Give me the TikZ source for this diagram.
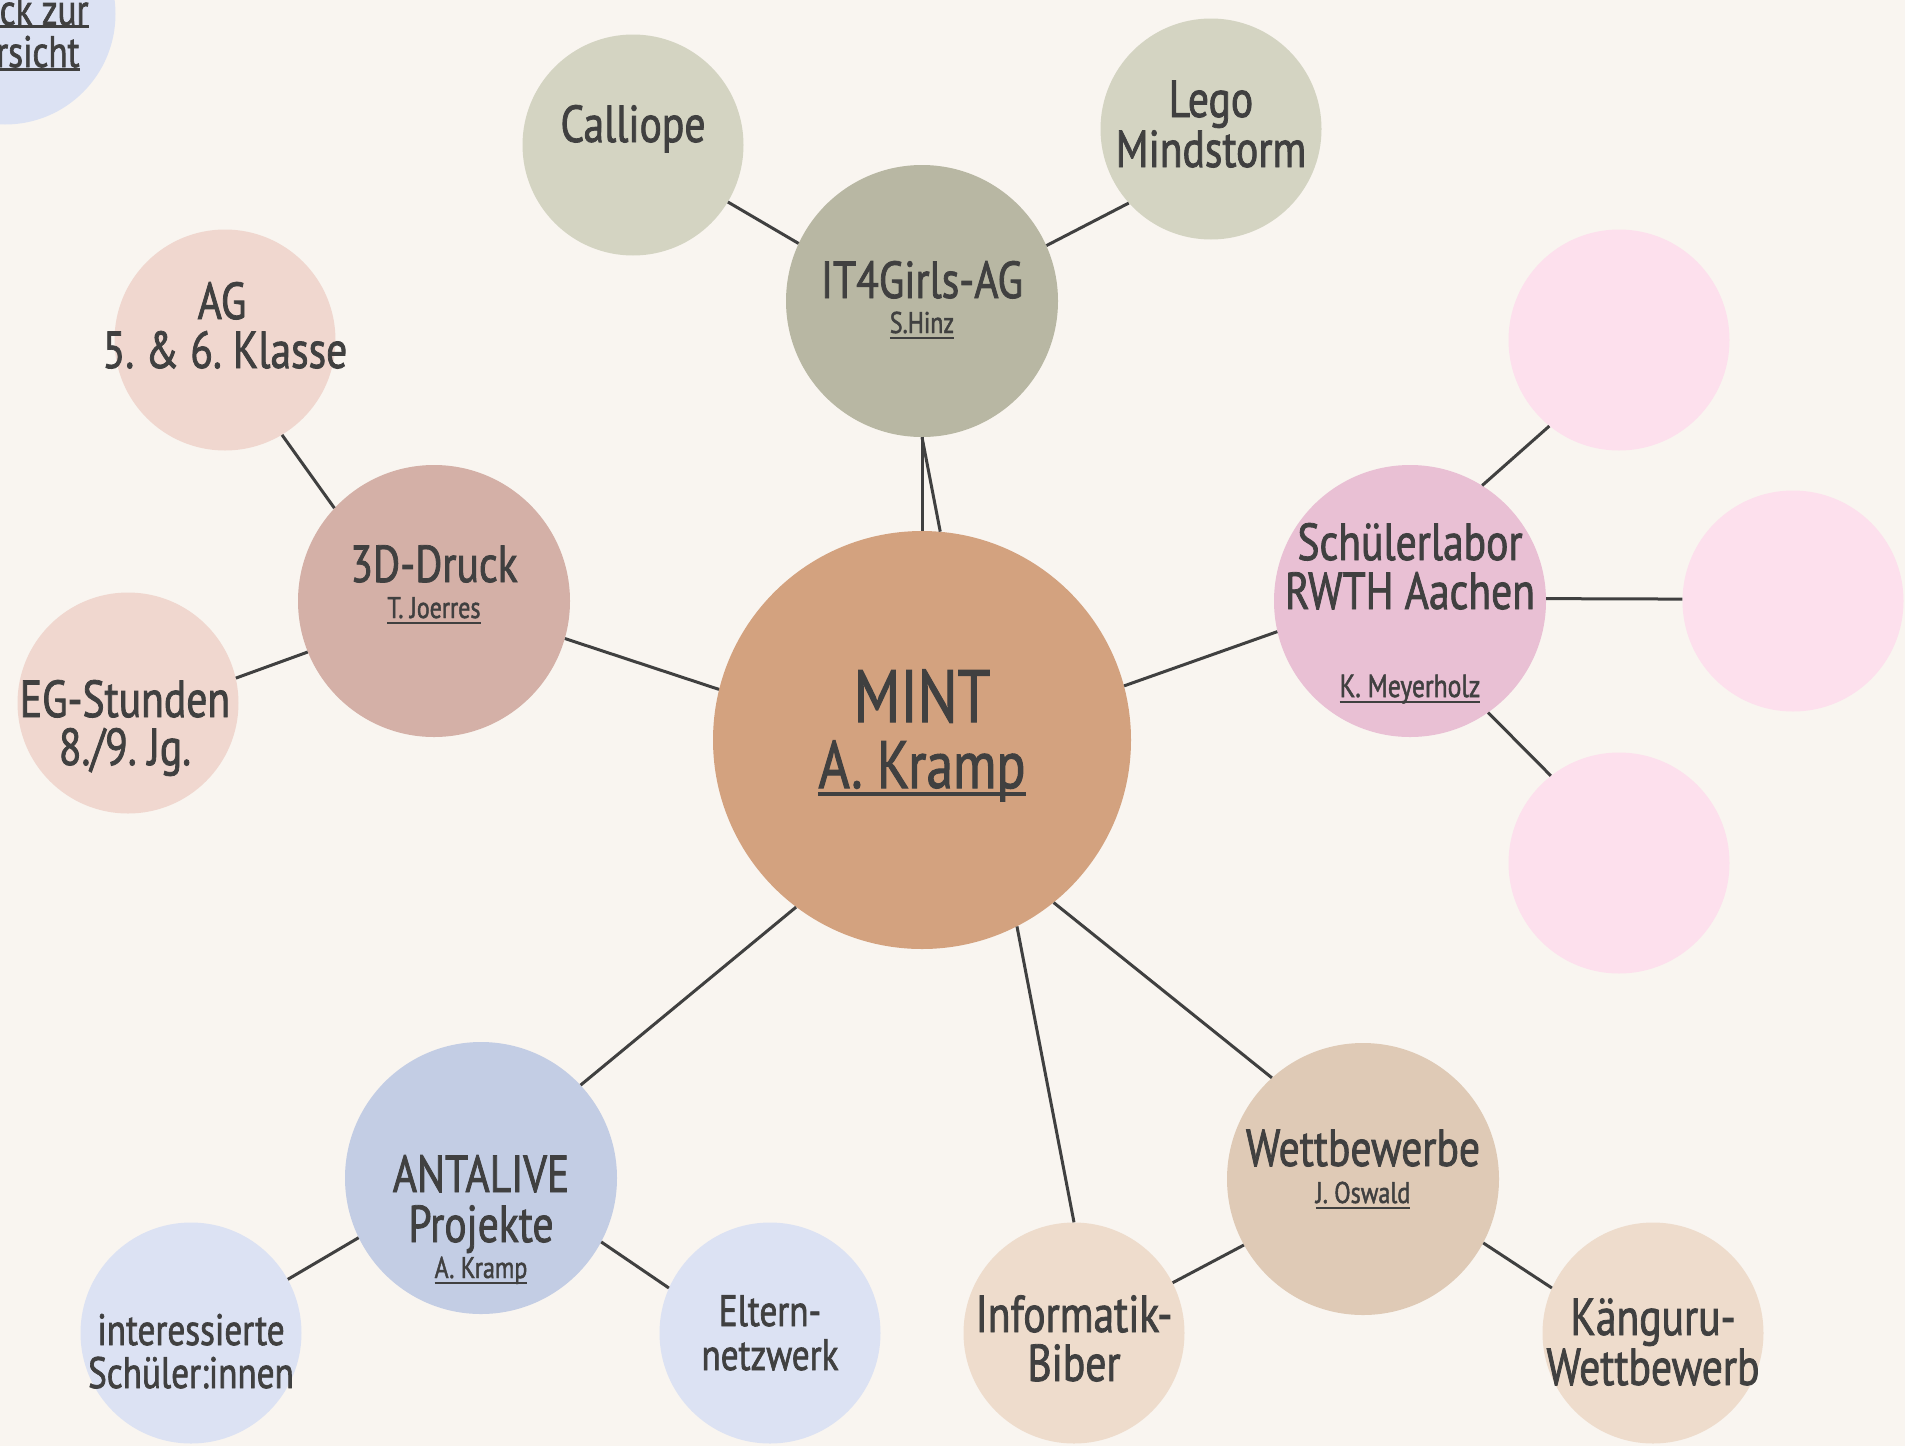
\documentclass[tikz,border=0pt]{standalone}
\usepackage{fontspec}
\setmainfont{PT Sans}[FakeStretch=0.8,FakeBold=1.5]
\frenchspacing
\definecolor{bgc}{HTML}{F9F5F0}
\definecolor{txtc}{HTML}{404040}
\definecolor{linec}{HTML}{404040}
\definecolor{cmint}{HTML}{D3A27F}
\definecolor{cit}{HTML}{B8B7A3}
\definecolor{citl}{HTML}{D4D4C2}
\definecolor{cdd}{HTML}{D4B0A7}
\definecolor{cddl}{HTML}{F0D7CF}
\definecolor{csl}{HTML}{E9C0D4}
\definecolor{csll}{HTML}{FDE0ED}
\definecolor{cant}{HTML}{C3CDE4}
\definecolor{cantl}{HTML}{DCE2F3}
\definecolor{cwet}{HTML}{DFCAB6}
\definecolor{cwetl}{HTML}{EEDCCC}
\newsavebox\ulsb
\newcommand\ulbox[3]{\sbox\ulsb{#3}\hbox{\rlap{\raise-#1\hbox{\vrule width\wd\ulsb height#2 depth0pt}}\usebox\ulsb}}
\tikzset{
  bub/.style={circle, draw=none, inner sep=0pt, minimum size=#1},
  bigbub/.style={bub=418pt},
  midbub/.style={bub=272pt},
  smlbub/.style={bub=221pt},
  con/.style={draw=linec, line width=3pt},
  lbl/.style={anchor=base, inner sep=0pt, text=txtc, font=\fontsize{52}{60}\selectfont},
  lblm/.style={lbl, font=\fontsize{44}{52}\selectfont},
  lbls/.style={lbl, font=\fontsize{30}{36}\selectfont},
}
\begin{document}
\begin{tikzpicture}[x=1pt,y=-1pt]
\clip (0,0) rectangle (1905,1446);
\fill[bgc] (0,0) rectangle (1905,1446);
\useasboundingbox (0,0) rectangle (1905,1446);

% circles
\node[bigbub, fill=cmint] (mint) at (922,740) {};
\node[midbub, fill=cit] (it4) at (922,301) {};
\node[smlbub, fill=citl] (cal) at (633,145) {};
\node[smlbub, fill=citl] (lego) at (1211,129) {};
\node[midbub, fill=cdd] (dd) at (434,601) {};
\node[smlbub, fill=cddl] (ag) at (225,340) {};
\node[smlbub, fill=cddl] (eg) at (128,703) {};
\node[midbub, fill=csl] (sl) at (1410,601) {};
\node[smlbub, fill=csll] (pt) at (1619,340) {};
\node[smlbub, fill=csll] (pr) at (1793,601) {};
\node[smlbub, fill=csll] (pb) at (1619,863) {};
\node[midbub, fill=cant] (ant) at (481,1178) {};
\node[smlbub, fill=cantl] (int) at (191,1333) {};
\node[smlbub, fill=cantl] (elt) at (770,1333) {};
\node[midbub, fill=cwet] (wet) at (1363,1179) {};
\node[smlbub, fill=cwetl] (bib) at (1074,1333) {};
\node[smlbub, fill=cwetl] (kan) at (1653,1333) {};
\node[smlbub, fill=cantl] (back) at (5,14) {};

% connectors
\draw[con] (mint.90) -- (it4.270);
\draw[con] (mint.85) -- (it4.270);
\draw[con] (it4.155) -- (cal.-31);
\draw[con] (it4.24) -- (lego.222);
\draw[con] (mint.166) -- (dd.-16);
\draw[con] (dd.137) -- (ag.-59);
\draw[con] (dd.202) -- (eg.13);
\draw[con] (mint.15) -- (sl.193);
\draw[con] (sl.58) -- (pt.231);
\draw[con] (sl.1) -- (pr.179);
\draw[con] (sl.-55) -- (pb.128);
\draw[con] (mint.233) -- (ant.43);
\draw[con] (ant.206) -- (int.29);
\draw[con] (ant.-28) -- (elt.156);
\draw[con] (mint.-63) -- (bib.90);
\draw[con] (mint.-51) -- (wet.132);
\draw[con] (wet.209) -- (bib.27);
\draw[con] (wet.-28) -- (kan.156);

% texts
\node[lbl, font=\fontsize{74}{90}\selectfont] (mint-t1) at (922,722) {MINT};
\node[lbl, font=\fontsize{67}{80}\selectfont] (mint-t2) at (922,788) {\ulbox{7.5pt}{3.5pt}{A. Kramp}};

\node[lbl] (it4-t1) at (922,298) {IT4Girls-AG};
\node[lbls] (it4-t2) at (922,333) {\ulbox{5.5pt}{2pt}{S.Hinz}};
\node[lbl] (cal-t1) at (633,142) {Calliope};
\node[lbl] (lego-t1) at (1211,117) {Lego};
\node[lbl] (lego-t2) at (1211,167) {Mindstorm};

\node[lbl] (dd-t1) at (434,582) {3D-Druck};
\node[lbls] (dd-t2) at (434,618) {\ulbox{5.5pt}{2pt}{T. Joerres}};
\node[lbl] (ag-t1) at (222,319) {AG};
\node[lbl] (ag-t2) at (225,368) {5. \& 6. Klasse};
\node[lbl] (eg-t1) at (125,717) {EG-Stunden};
\node[lbl] (eg-t2) at (125,765) {8./9. Jg.};

\node[lbl] (sl-t1) at (1410,560) {Schülerlabor};
\node[lbl] (sl-t2) at (1410,609) {RWTH Aachen};
\node[lbls, font=\fontsize{32}{38}\selectfont] (sl-t3) at (1410,697) {\ulbox{5.5pt}{2pt}{K. Meyerholz}};

\node[lbl] (ant-t1) at (481,1192) {ANTALIVE};
\node[lbl] (ant-t2) at (481,1242) {Projekte};
\node[lbls] (ant-t3) at (481,1278) {\ulbox{5.5pt}{2pt}{A. Kramp}};
\node[lblm] (int-t1) at (191,1345) {interessierte};
\node[lblm] (int-t2) at (191,1388) {Schüler:innen};
\node[lblm] (elt-t1) at (770,1326) {Eltern-};
\node[lblm] (elt-t2) at (770,1370) {netzwerk};

\node[lbl] (wet-t1) at (1363,1166) {Wettbewerbe};
\node[lbls] (wet-t2) at (1363,1203) {\ulbox{5.5pt}{2pt}{J. Oswald}};
\node[lbl] (bib-t1) at (1074,1332) {Informatik-};
\node[lbl] (bib-t2) at (1074,1381) {Biber};
\node[lbl] (kan-t1) at (1653,1335) {Känguru-};
\node[lbl] (kan-t2) at (1653,1385) {Wettbewerb};

\node[lblm] (back-t1) at (10,25) {\ulbox{3pt}{3pt}{Zurück zur}};
\node[lblm] (back-t2) at (8,67) {\ulbox{4pt}{3pt}{Übersicht}};
\end{tikzpicture}
\end{document}
